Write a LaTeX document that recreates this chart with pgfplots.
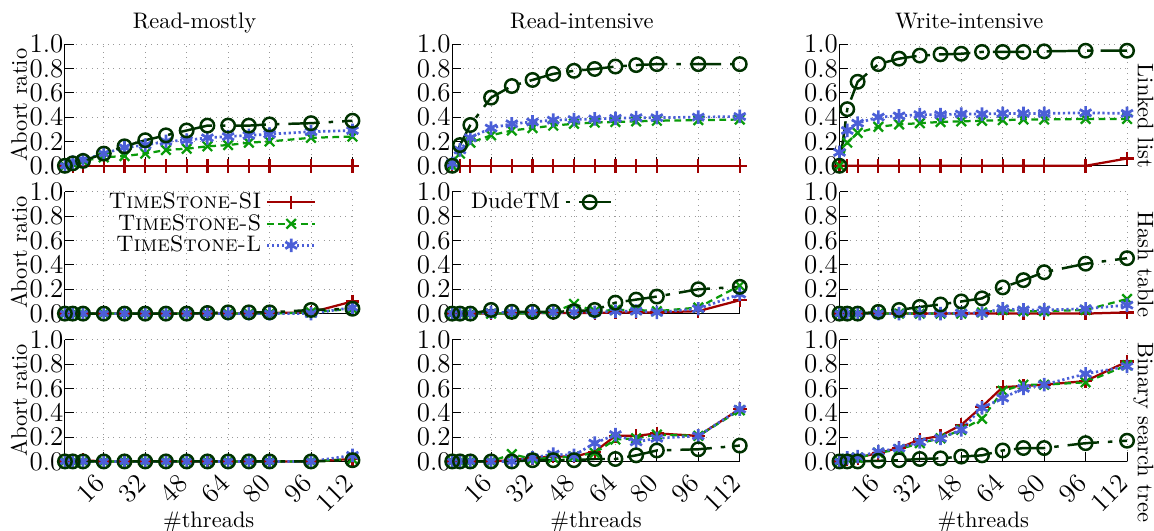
\documentclass[border=0pt]{standalone}
\usepackage{graphicx}
\usepackage{pgfplots}
\pgfplotsset{compat=1.18}
\usepackage{pgfplotstable}
\usepgfplotslibrary{groupplots}
\definecolor{tsred}{RGB}{160,0,0}
\definecolor{tsgreen}{RGB}{10,155,10}
\definecolor{tsblue}{RGB}{75,95,215}
\definecolor{dkgreen}{RGB}{0,50,0}

% x si s l d
\pgfplotstableread{
x si s l d
1 0 0 0 0
4 0 0.02 0.03 0.02
8 0 0.04 0.05 0.04
16 0 0.07 0.10 0.10
24 0 0.08 0.15 0.16
32 0 0.10 0.17 0.21
40 0 0.13 0.20 0.25
48 0 0.14 0.21 0.29
56 0 0.16 0.23 0.33
64 0 0.17 0.24 0.33
72 0 0.19 0.25 0.33
80 0 0.20 0.26 0.34
96 0 0.23 0.28 0.35
112 0 0.24 0.29 0.37
}\tAA
\pgfplotstableread{
x si s l d
1 0 0 0.02 0
4 0 0.10 0.13 0.17
8 0 0.19 0.23 0.335
16 0 0.25 0.31 0.56
24 0 0.29 0.345 0.655
32 0 0.31 0.36 0.705
40 0 0.33 0.375 0.755
48 0 0.345 0.38 0.78
56 0 0.355 0.385 0.795
64 0 0.36 0.39 0.815
72 0 0.365 0.395 0.827
80 0 0.37 0.395 0.835
96 0 0.375 0.40 0.835
112 0 0.38 0.405 0.835
}\tBA
\pgfplotstableread{
x si s l d
1 0 0 0.11 0
4 0 0.19 0.29 0.465
8 0 0.27 0.35 0.69
16 0 0.32 0.40 0.835
24 0 0.34 0.41 0.88
32 0 0.35 0.42 0.905
40 0 0.36 0.42 0.915
48 0 0.365 0.425 0.92
56 0 0.37 0.425 0.935
64 0 0.375 0.43 0.935
72 0 0.38 0.43 0.935
80 0 0.38 0.43 0.94
96 0 0.385 0.435 0.945
112 0.06 0.385 0.43 0.945
}\tCA
\pgfplotstableread{
x si s l d
1 0 0 0 0
4 0 0 0 0
8 0 0 0 0
16 0 0 0 0
24 0 0 0 0
32 0 0 0 0
40 0 0 0 0
48 0 0 0 0
56 0 0 0 0.005
64 0 0 0 0.01
72 0 0 0 0.01
80 0.005 0 0 0.01
96 0.01 0.01 0 0.03
112 0.10 0.04 0.05 0.04
}\tAB
\pgfplotstableread{
x si s l d
1 0 0 0 0
4 0 0 0 0
8 0 0 0 0
16 0 0 0.01 0.03
24 0 0 0.01 0.015
32 0.005 0 0.01 0.015
40 0.005 0.01 0.01 0.015
48 0.005 0.08 0.01 0.02
56 0.005 0.02 0.01 0.03
64 0.01 0.03 0.02 0.09
72 0.01 0.03 0.02 0.115
80 0.01 0.02 0.01 0.14
96 0.02 0.05 0.04 0.20
112 0.11 0.23 0.16 0.22
}\tBB
\pgfplotstableread{
x si s l d
1 0 0 0 0
4 0 0 0 0
8 0 0 0 0
16 0 0 0 0.014
24 0 0 0 0.03
32 0 0 0 0.055
40 0 0 0 0.075
48 0 0 0.005 0.10
56 0 0.01 0.005 0.125
64 0 0.03 0.04 0.215
72 0 0.02 0.03 0.275
80 0 0.02 0.03 0.34
96 0 0.03 0.04 0.41
112 0.01 0.12 0.07 0.455
}\tCB
\pgfplotstableread{
x si s l d
1 0 0 0 0
4 0 0 0 0
8 0.01 0 0 0
16 0 0 0 0
24 0 0 0 0
32 0 0 0 0
40 0 0 0 0
48 0 0 0 0
56 0 0 0 0
64 0 0 0 0
72 0 0 0 0
80 0 0 0 0
96 0 0 0 0
112 0.02 0.02 0.05 0.01
}\tAC
\pgfplotstableread{
x si s l d
1 0 0 0 0
4 0 0 0 0
8 0 0 0 0
16 0 0 0 0
24 0.01 0.06 0 0
32 0.03 0.02 0.03 0.01
40 0.04 0.03 0.06 0.01
48 0.04 0.04 0.05 0.01
56 0.08 0.07 0.15 0.02
64 0.21 0.18 0.22 0.02
72 0.21 0.19 0.16 0.05
80 0.23 0.22 0.19 0.09
96 0.21 0.21 0.21 0.10
112 0.43 0.42 0.43 0.13
}\tBC
\pgfplotstableread{
x si s l d
1 0 0 0 0
4 0.02 0.02 0.03 0
8 0.03 0.03 0.04 0
16 0.07 0.07 0.08 0.005
24 0.11 0.10 0.11 0.01
32 0.18 0.15 0.16 0.02
40 0.21 0.19 0.19 0.025
48 0.30 0.26 0.26 0.04
56 0.45 0.35 0.44 0.05
64 0.61 0.58 0.52 0.09
72 0.62 0.63 0.60 0.11
80 0.63 0.63 0.63 0.11
96 0.66 0.65 0.72 0.15
112 0.82 0.79 0.78 0.17
}\tCC

\pgfplotsset{
  si/.style={color=tsred, solid, line width=1pt, mark=+, mark size=3pt, mark options={solid}},
  ts/.style={color=tsgreen, dash pattern=on 3pt off 2pt, line width=1pt, mark=x, mark size=3pt, mark options={solid}},
  tl/.style={color=tsblue, dash pattern=on 1pt off 1.2pt, line width=1.2pt, mark=asterisk, mark size=3pt, mark options={solid}},
  dude/.style={color=dkgreen, dash pattern=on 2pt off 4pt on 14pt off 4pt, line width=1.1pt, mark=o, mark size=3pt, mark options={solid}},
}
\tikzset{rlabel/.style={rotate=-90, anchor=base, font=\normalsize}}

\begin{document}
\begin{tikzpicture}
\begin{groupplot}[
  group style={group size=3 by 3, horizontal sep=44.4pt, vertical sep=11.6pt, xticklabels at=edge bottom},
  scale only axis, width=128pt, height=54.2pt,
  xmin=1, xmax=112, ymin=0, ymax=1,
  xtick={16,32,48,64,80,96,112}, ytick={0,0.2,0.4,0.6,0.8,1.0},
  axis lines*=left, axis line style={-},
  tick align=inside, xtick pos=bottom, ytick pos=left,
  major tick length=4pt, tick style={black, thin},
  grid=major, major grid style={dotted, gray!80},
  yticklabel style={font=\large, /pgf/number format/fixed, /pgf/number format/fixed zerofill, /pgf/number format/precision=1, inner xsep=0.5pt},
  xticklabel={\rotatebox{45}{\pgfmathprintnumber{\tick}}},
  xticklabel style={font=\large, anchor=north east, inner xsep=0pt, inner ysep=5pt, xshift=1.2pt},
  clip=false,
  title style={at={(axis description cs:0.451,1)}, anchor=base, yshift=1pt},
  xlabel style={at={(axis description cs:0.5,-0.54)}, anchor=base},
  ylabel style={at={(axis description cs:-0.132,0.5)}, anchor=base},
  legend style={draw=none, fill=none, row sep=-3pt},
  legend cell align=right, legend plot pos=right,
  legend image code/.code={\draw[mark repeat=2,mark phase=2,#1] plot coordinates {(0cm,0cm) (0.375cm,0cm) (0.75cm,0cm)};},
]
% Row 1
\nextgroupplot[title={Read-mostly}, ylabel={Abort ratio}]
\addplot[si] table[x=x,y=si]{\tAA};
\addplot[ts] table[x=x,y=s]{\tAA};
\addplot[tl] table[x=x,y=l]{\tAA};
\addplot[dude] table[x=x,y=d]{\tAA};
\nextgroupplot[title={Read-intensive}]
\addplot[si] table[x=x,y=si]{\tBA};
\addplot[ts] table[x=x,y=s]{\tBA};
\addplot[tl] table[x=x,y=l]{\tBA};
\addplot[dude] table[x=x,y=d]{\tBA};
\nextgroupplot[title={Write-intensive}]
\addplot[si] table[x=x,y=si]{\tCA};
\addplot[ts] table[x=x,y=s]{\tCA};
\addplot[tl] table[x=x,y=l]{\tCA};
\addplot[dude] table[x=x,y=d]{\tCA};
\node[rlabel] at (rel axis cs:1.038,0.41) {Linked list};
% Row 2
\nextgroupplot[ylabel={Abort ratio}, legend style={at={(0.9,1.07)}, anchor=north east}]
\addplot[si] table[x=x,y=si]{\tAB};
\addlegendentry{\textsc{TimeStone-SI}}
\addplot[ts] table[x=x,y=s]{\tAB};
\addlegendentry{\textsc{TimeStone-S}}
\addplot[tl] table[x=x,y=l]{\tAB};
\addlegendentry{\textsc{TimeStone-L}}
\addplot[dude, forget plot] table[x=x,y=d]{\tAB};
\nextgroupplot[legend style={at={(0.025,1.07)}, anchor=north west}]
\addplot[si, forget plot] table[x=x,y=si]{\tBB};
\addplot[ts, forget plot] table[x=x,y=s]{\tBB};
\addplot[tl, forget plot] table[x=x,y=l]{\tBB};
\addplot[dude] table[x=x,y=d]{\tBB};
\addlegendentry{DudeTM}
\nextgroupplot
\addplot[si] table[x=x,y=si]{\tCB};
\addplot[ts] table[x=x,y=s]{\tCB};
\addplot[tl] table[x=x,y=l]{\tCB};
\addplot[dude] table[x=x,y=d]{\tCB};
\node[rlabel] at (rel axis cs:1.038,0.405) {Hash table};
% Row 3
\nextgroupplot[ylabel={Abort ratio}, xlabel={\#threads}]
\addplot[si] table[x=x,y=si]{\tAC};
\addplot[ts] table[x=x,y=s]{\tAC};
\addplot[tl] table[x=x,y=l]{\tAC};
\addplot[dude] table[x=x,y=d]{\tAC};
\nextgroupplot[xlabel={\#threads}]
\addplot[si] table[x=x,y=si]{\tBC};
\addplot[ts] table[x=x,y=s]{\tBC};
\addplot[tl] table[x=x,y=l]{\tBC};
\addplot[dude] table[x=x,y=d]{\tBC};
\nextgroupplot[xlabel={\#threads}]
\addplot[si] table[x=x,y=si]{\tCC};
\addplot[ts] table[x=x,y=s]{\tCC};
\addplot[tl] table[x=x,y=l]{\tCC};
\addplot[dude] table[x=x,y=d]{\tCC};
\node[rlabel] at (rel axis cs:1.038,0.24) {Binary search tree};
\end{groupplot}
\pgfresetboundingbox
\path ([shift={(-28.9pt,19.6pt)}]group c1r1.north west) rectangle ([shift={(12pt,-30.7pt)}]group c3r3.south east);
\end{tikzpicture}
\end{document}
